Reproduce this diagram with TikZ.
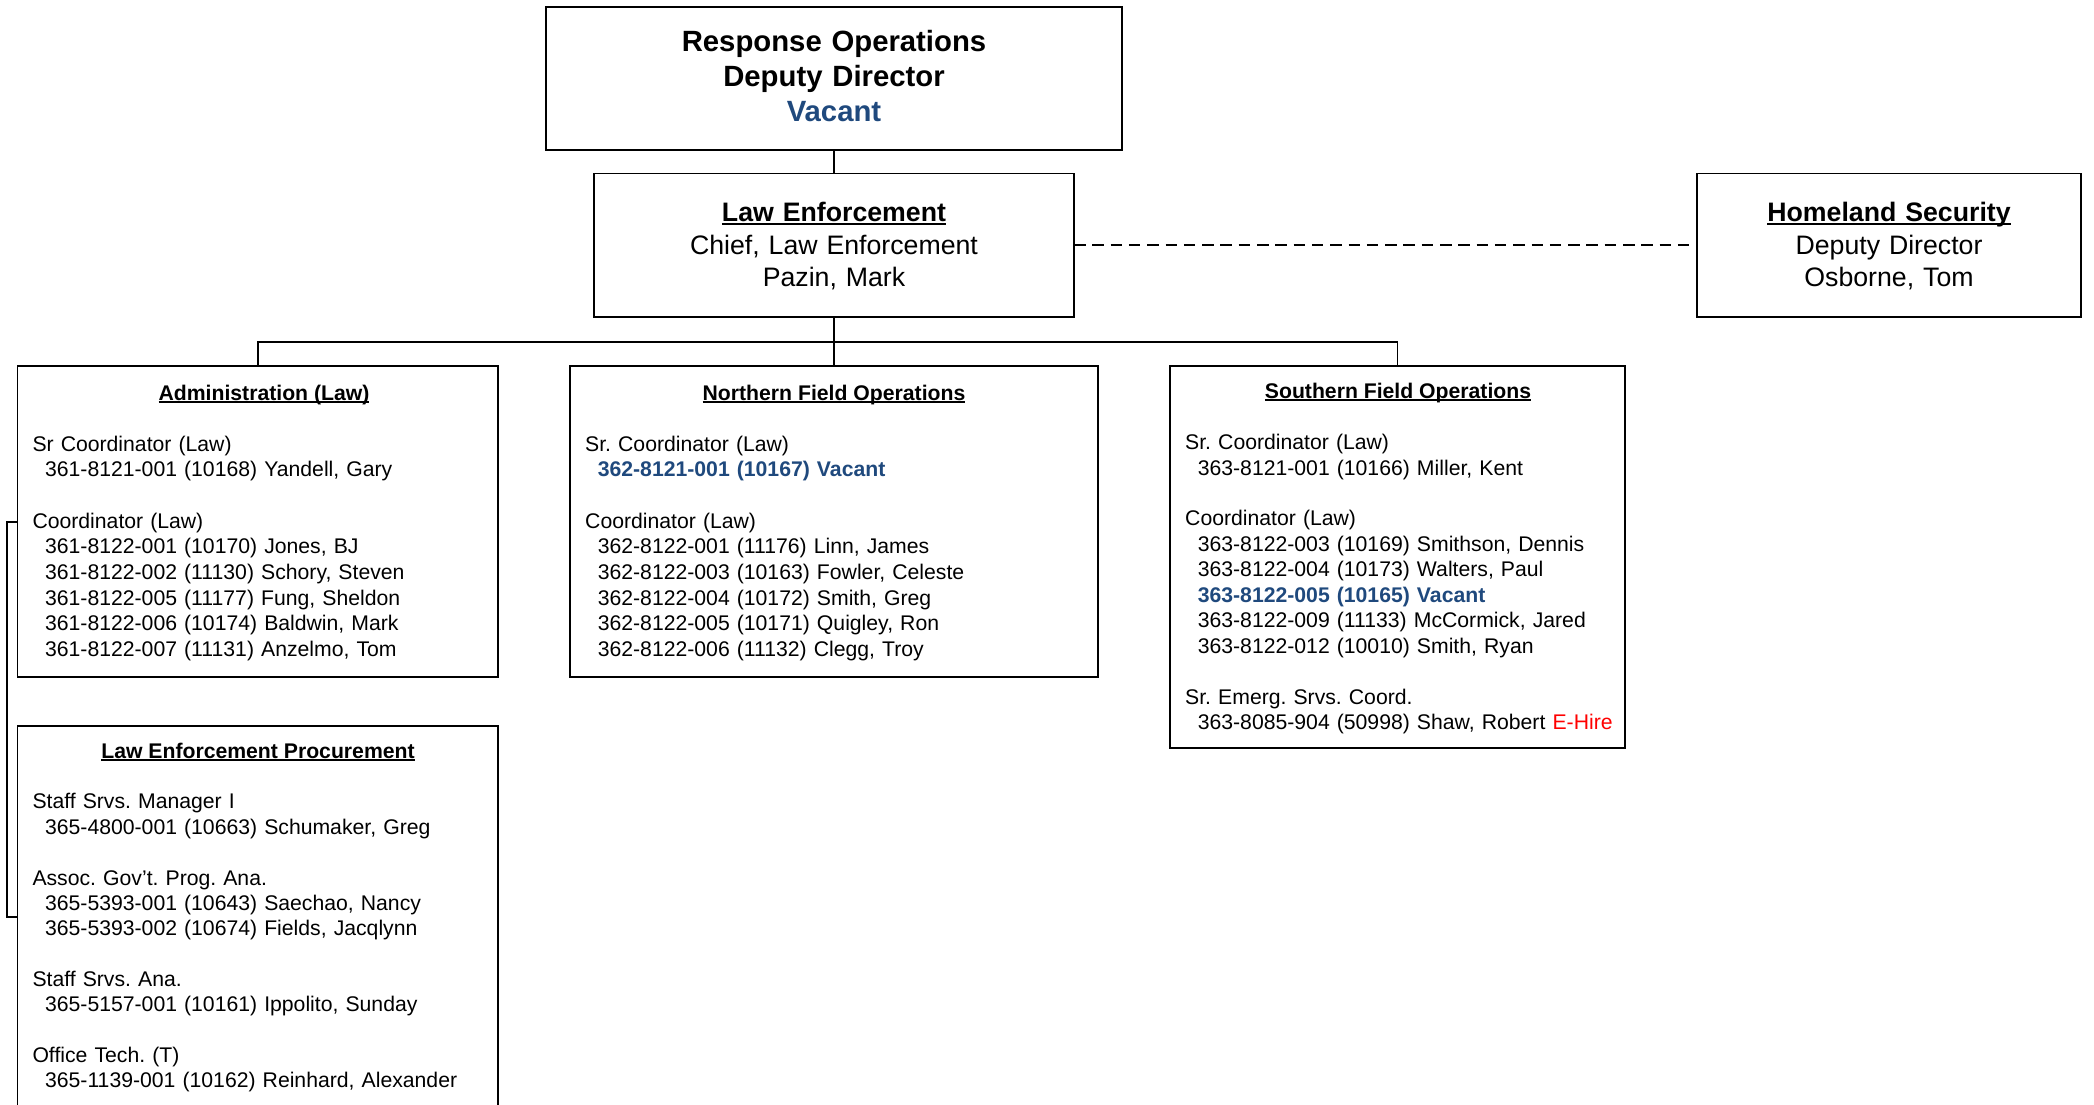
\documentclass[tikz,border=0pt]{standalone}
\usepackage{fontspec}
\setmainfont{Liberation Sans}
\usetikzlibrary{calc}
\frenchspacing
\definecolor{vacblue}{RGB}{31,73,125}
\newcommand{\ulh}[1]{\leavevmode\setbox0=\hbox{#1}\rlap{\rule[-0.11em]{\wd0}{0.075em}}\box0}
\newcommand{\ind}{\hspace*{12.6pt}}
\tikzset{
  box/.style={draw, line width=1.8pt, inner sep=0pt, outer sep=0pt, anchor=north west},
  link/.style={line width=1.8pt},
  dlink/.style={line width=1.8pt, dash pattern=on 11.5pt off 6.8pt},
  bigtitle/.style={font=\fontsize{29.3}{34.7}\selectfont\bfseries, text width=560pt, align=center, inner sep=0pt, anchor=base},
  midtext/.style={font=\fontsize{26.7}{32.1}\selectfont, text width=380pt, align=center, inner sep=0pt, anchor=base},
  head/.style={font=\fontsize{21.2}{25.6}\selectfont\bfseries, inner sep=0pt, anchor=base},
  body/.style={font=\fontsize{21.2}{25.7}\selectfont\frenchspacing, text width=440pt, align=left, inner sep=0pt, anchor=base west},
}
\begin{document}
\begin{tikzpicture}[x=1pt,y=-1pt]
\useasboundingbox (0,0) rectangle (2094,1105);
\clip (0,0) rectangle (2094,1105);

% boxes
\node[box, minimum width=576pt, minimum height=143pt] (top) at (546,6.7) {};
\node[box, minimum width=480pt, minimum height=143pt] (le) at (594,173.6) {};
\node[box, minimum width=384pt, minimum height=143pt] (hs) at (1697,173.6) {};
\node[box, minimum width=480.6pt, minimum height=311pt] (adm) at (17.4,366) {};
\node[box, minimum width=528pt, minimum height=311pt] (nfo) at (570,366) {};
\node[box, minimum width=455pt, minimum height=382pt] (sfo) at (1170,366) {};
\node[box, minimum width=480.6pt, minimum height=420pt] (proc) at (17.4,725.7) {};

% connectors
\coordinate (bar) at (834,342);
\draw[link] (top.south) -- (le.north);
\draw[link] (le.south) -- (bar);
\draw[link] (bar) -| (adm.north);
\draw[link] (bar) -| (sfo.north);
\draw[link] (bar) -- (nfo.north);
\draw[dlink] (le.east) -- (hs.west);
\draw[link] ($(adm.north west)+(0,156)$) -- ++(-10.7,0) |- ($(proc.north west)+(0,191)$);

% top box text
\node[bigtitle] (toptxt) at (834,52) {Response Operations\\Deputy Director\\\textcolor{vacblue}{Vacant}};

% law enforcement
\node[midtext] (letxt) at (834,221.9) {\textbf{\ulh{Law Enforcement}}\\Chief, Law Enforcement\\Pazin, Mark};

% homeland security
\node[midtext] (hstxt) at (1889,221.9) {\textbf{\ulh{Homeland Security}}\\Deputy Director\\Osborne, Tom};

% administration
\node[head] (admh) at (264,400.2) {\ulh{Administration (Law)}};
\node[body] (admb) at (32.3,451) {Sr Coordinator (Law)\\
\ind 361-8121-001 (10168) Yandell, Gary\\[25.7pt]
Coordinator (Law)\\
\ind 361-8122-001 (10170) Jones, BJ\\
\ind 361-8122-002 (11130) Schory, Steven\\
\ind 361-8122-005 (11177) Fung, Sheldon\\
\ind 361-8122-006 (10174) Baldwin, Mark\\
\ind 361-8122-007 (11131) Anzelmo, Tom};

% northern
\node[head] (nfoh) at (834,400.2) {\ulh{Northern Field Operations}};
\node[body] (nfob) at (585,451) {Sr. Coordinator (Law)\\
\ind\textcolor{vacblue}{\bfseries 362-8121-001 (10167) Vacant}\\[25.7pt]
Coordinator (Law)\\
\ind 362-8122-001 (11176) Linn, James\\
\ind 362-8122-003 (10163) Fowler, Celeste\\
\ind 362-8122-004 (10172) Smith, Greg\\
\ind 362-8122-005 (10171) Quigley, Ron\\
\ind 362-8122-006 (11132) Clegg, Troy};

% southern
\node[head] (sfoh) at (1398,398.6) {\ulh{Southern Field Operations}};
\node[body, font=\fontsize{21.2}{25.45}\selectfont\frenchspacing] (sfob) at (1185,449.6) {Sr. Coordinator (Law)\\
\ind 363-8121-001 (10166) Miller, Kent\\[25.45pt]
Coordinator (Law)\\
\ind 363-8122-003 (10169) Smithson, Dennis\\
\ind 363-8122-004 (10173) Walters, Paul\\
\ind\textcolor{vacblue}{\bfseries 363-8122-005 (10165) Vacant}\\
\ind 363-8122-009 (11133) McCormick, Jared\\
\ind 363-8122-012 (10010) Smith, Ryan\\[25.45pt]
Sr. Emerg. Srvs. Coord.\\
\ind 363-8085-904 (50998) Shaw, Robert \textcolor{red}{E-Hire}};

% procurement
\node[head] (proch) at (258,758.2) {\ulh{Law Enforcement Procurement}};
\node[body, font=\fontsize{21.2}{25.37}\selectfont\frenchspacing] (procb) at (32.3,808.9) {Staff Srvs. Manager I\\
\ind 365-4800-001 (10663) Schumaker, Greg\\[25.37pt]
Assoc. Gov’t. Prog. Ana.\\
\ind 365-5393-001 (10643) Saechao, Nancy\\
\ind 365-5393-002 (10674) Fields, Jacqlynn\\[25.37pt]
Staff Srvs. Ana.\\
\ind 365-5157-001 (10161) Ippolito, Sunday\\[25.37pt]
Office Tech. (T)\\
\ind 365-1139-001 (10162) Reinhard, Alexander};
\end{tikzpicture}
\end{document}
